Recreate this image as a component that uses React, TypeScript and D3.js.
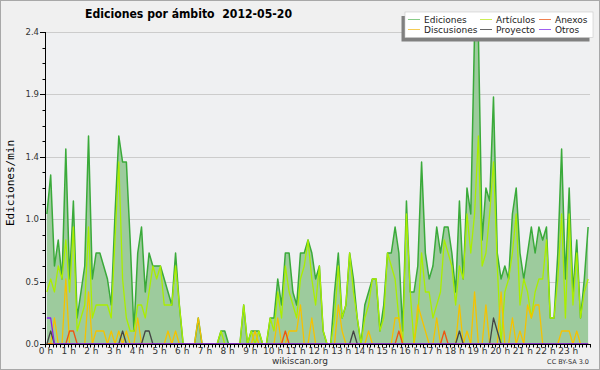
import * as d3 from 'd3';

// one value per 10-minute slot (144 slots), edits per minute
const ediciones = [
  1.0, 1.3, 0.6, 0.8, 0.5, 1.5, 0.5, 1.1, 0.2, 0.4, 0.6, 1.6,
  0.5, 0.7, 0.7, 0.6, 0.5, 0.3, 1.0, 1.6, 1.4, 1.4, 0.8, 0.1,
  0.7, 0.9, 0.4, 0.7, 0.6, 0.6, 0.6, 0.5, 0.4, 0.3, 0.7, 0.3,
  0, 0, 0, 0, 0.2, 0, 0, 0, 0, 0, 0.1, 0.1,
  0, 0, 0, 0, 0.3, 0, 0.1, 0.1, 0.1, 0, 0, 0.2,
  0.2, 0.5, 0.3, 0.7, 0.7, 0.4, 0.3, 0.7, 0.7, 0.8, 0.7, 0.5,
  0.6, 0.1, 0, 0, 0.4, 0.7, 0.2, 0.3, 0.7, 0.5, 0.2, 0,
  0.3, 0.4, 0.5, 0.5, 0.1, 0.3, 0.7, 0.7, 0.9, 0.7, 0.1, 1.1,
  0.4, 0.4, 0.6, 1.4, 0.7, 0.5, 0.6, 0.9, 0.7, 0.9, 0.9, 0.7,
  0.4, 1.1, 0.5, 1.2, 1.0, 2.4, 2.4, 0.8, 1.2, 1.1, 1.9, 0.7,
  0.5, 0.6, 0.5, 1.0, 1.2, 0.7, 0.5, 0.7, 0.9, 0.7, 0.9, 0.8,
  0.9, 0.2, 0.2, 0.7, 1.5, 0.5, 1.2, 0.4, 0.8, 0.2, 0.5, 0.9,
];

const articulos = [
  0.4, 0.5, 0.4, 0.6, 0.5, 0.8, 0.4, 0.9, 0.1, 0.2, 0.3, 0.9,
  0.2, 0.3, 0.3, 0.3, 0.3, 0.2, 0.8, 1.4, 0.5, 0.2, 0.1, 0.1,
  0.3, 0.3, 0.2, 0.4, 0.6, 0.5, 0.6, 0.3, 0.3, 0.3, 0.6, 0.3,
  0, 0, 0, 0, 0, 0, 0, 0, 0, 0, 0.1, 0,
  0, 0, 0, 0, 0.3, 0, 0.1, 0, 0.1, 0, 0, 0.2,
  0.1, 0.4, 0.2, 0.6, 0.4, 0.3, 0.2, 0.5, 0.6, 0.8, 0.5, 0.3,
  0.6, 0.1, 0, 0, 0.2, 0.6, 0.2, 0.3, 0.7, 0.4, 0.2, 0,
  0.2, 0.3, 0.5, 0.5, 0.1, 0.2, 0.7, 0.6, 0.5, 0.2, 0, 1.0,
  0.4, 0, 0.2, 0.7, 0.4, 0.4, 0.2, 0.3, 0.4, 0.8, 0.7, 0.6,
  0.3, 0.6, 0.5, 1.0, 0.7, 1.0, 1.6, 0.6, 0.7, 1.0, 1.4, 0.6,
  0, 0.4, 0.5, 0.7, 1.0, 0.3, 0.5, 0.4, 0.2, 0.4, 0.5, 0.5,
  0.8, 0.2, 0.2, 0.5, 1.0, 0.2, 1.0, 0.3, 0.7, 0.2, 0.4, 0.5,
];

const discusiones = [
  0, 0, 0.2, 0, 0, 0.5, 0, 0, 0, 0, 0, 0.4,
  0, 0.1, 0.1, 0.1, 0, 0.1, 0, 0.1, 0, 0.1, 0, 0,
  0.2, 0, 0, 0, 0, 0, 0, 0, 0.1, 0, 0.1, 0,
  0, 0, 0, 0, 0.2, 0, 0, 0, 0, 0, 0, 0,
  0, 0, 0, 0, 0, 0, 0, 0.1, 0, 0, 0, 0,
  0, 0.2, 0, 0, 0.1, 0.1, 0.1, 0.3, 0, 0, 0.2, 0,
  0, 0, 0, 0, 0, 0.3, 0.1, 0, 0, 0, 0, 0,
  0, 0.1, 0, 0, 0, 0, 0, 0, 0.2, 0.2, 0, 0,
  0, 0, 0.3, 0.2, 0.1, 0, 0, 0.2, 0, 0, 0, 0,
  0, 0.3, 0, 0.1, 0, 0.4, 0, 0, 0.3, 0, 0, 0,
  0.4, 0, 0, 0.2, 0, 0.1, 0, 0.3, 0.2, 0.3, 0.3, 0,
  0, 0, 0, 0, 0.1, 0.1, 0.1, 0, 0.1, 0, 0, 0,
];

const anexos = [
  0, 0, 0, 0, 0, 0, 0.1, 0.1, 0, 0, 0, 0,
  0, 0, 0, 0, 0, 0, 0, 0, 0, 0, 0, 0,
  0, 0, 0, 0, 0, 0, 0, 0, 0, 0, 0, 0,
  0, 0, 0, 0, 0, 0, 0, 0, 0, 0, 0, 0,
  0, 0, 0, 0, 0, 0, 0, 0, 0, 0, 0, 0,
  0, 0, 0, 0.1, 0, 0, 0, 0, 0, 0, 0, 0,
  0, 0, 0, 0, 0, 0, 0, 0, 0, 0, 0, 0,
  0, 0, 0, 0, 0, 0, 0, 0, 0, 0.1, 0, 0,
  0, 0, 0, 0, 0, 0, 0, 0, 0, 0.1, 0, 0,
  0, 0, 0, 0, 0, 0, 0, 0, 0, 0, 0, 0,
  0, 0, 0, 0, 0, 0, 0, 0, 0, 0, 0, 0,
  0, 0, 0, 0, 0, 0, 0, 0, 0, 0, 0, 0,
];

const proyecto = [
  0, 0.1, 0, 0, 0, 0, 0, 0, 0, 0, 0, 0,
  0, 0, 0, 0, 0, 0, 0, 0, 0.1, 0, 0, 0,
  0, 0, 0.1, 0.1, 0, 0, 0, 0, 0, 0, 0, 0,
  0, 0, 0, 0, 0, 0, 0, 0, 0, 0, 0, 0,
  0, 0, 0, 0, 0, 0, 0, 0, 0, 0, 0, 0,
  0, 0, 0, 0, 0, 0, 0, 0, 0, 0, 0, 0,
  0, 0, 0, 0, 0, 0, 0, 0, 0, 0.1, 0, 0,
  0, 0, 0, 0, 0, 0, 0, 0, 0, 0, 0, 0,
  0, 0, 0, 0, 0, 0, 0, 0, 0, 0, 0, 0,
  0, 0.1, 0, 0, 0, 0, 0, 0, 0, 0, 0.2, 0.1,
  0, 0, 0, 0, 0, 0, 0, 0, 0, 0, 0, 0,
  0, 0, 0, 0, 0, 0, 0, 0, 0, 0, 0, 0,
];

const otros = [
  0.2, 0.2, 0, 0, 0, 0, 0, 0, 0, 0, 0, 0,
  0, 0, 0, 0, 0, 0, 0, 0, 0, 0, 0, 0,
  0, 0, 0, 0, 0, 0, 0, 0, 0, 0, 0, 0,
  0, 0, 0, 0, 0, 0, 0, 0, 0, 0, 0, 0,
  0, 0, 0, 0, 0, 0, 0, 0, 0, 0, 0, 0,
  0, 0, 0, 0, 0, 0, 0, 0, 0, 0, 0, 0,
  0, 0, 0, 0, 0, 0, 0, 0, 0, 0, 0, 0,
  0, 0, 0, 0, 0, 0, 0, 0, 0, 0, 0, 0,
  0, 0, 0, 0, 0, 0, 0, 0, 0, 0, 0, 0,
  0, 0, 0, 0, 0, 0, 0, 0, 0, 0, 0, 0,
  0, 0, 0, 0, 0, 0, 0, 0, 0, 0, 0, 0,
  0, 0, 0, 0, 0, 0, 0, 0, 0, 0, 0, 0,
];

const hourLabels = [
  '0 h', '1 h', '2 h', '3 h', '4 h', '5 h', '6 h', '7 h', '8 h', '9 h', '10 h', '11 h',
  '12 h', '13 h', '14 h', '15 h', '16 h', '17 h', '18 h', '19 h', '20 h', '21 h', '22 h', '23 h',
];
const yTickValues = [0, 0.48, 0.96, 1.44, 1.92, 2.4];
const yTickLabels = ['0.0', '0.5', '1.0', '1.4', '1.9', '2.4'];

const series = [
  { label: 'Ediciones', values: ediciones, color: '#3aaa3a', swatch: '#88cc88' },
  { label: 'Artículos', values: articulos, color: '#aaee00', swatch: '#ccee55' },
  { label: 'Discusiones', values: discusiones, color: '#f5c200', swatch: '#f5cc55' },
  { label: 'Anexos', values: anexos, color: '#ee5511', swatch: '#f08050' },
  { label: 'Proyecto', values: proyecto, color: '#444444', swatch: '#666666' },
  { label: 'Otros', values: otros, color: '#8822ee', swatch: '#a060f0' },
];

// legend grid order: row 1 Ediciones, Artículos, Anexos; row 2 Discusiones, Proyecto, Otros
const legendOrder = ['Ediciones', 'Artículos', 'Anexos', 'Discusiones', 'Proyecto', 'Otros'];

const W = 600;
const H = 370;
const plot = { left: 45, right: 590, top: 32, bottom: 344 };
const sans = "'DejaVu Sans', sans-serif";

export default function App() {
  const x = d3.scaleLinear().domain([0, 1440]).range([plot.left, plot.right]);
  const y = d3.scaleLinear().domain([0, 2.4]).range([plot.bottom, plot.top]);
  const slotX = (i: number) => x(i * 10 + 5);

  const line = d3
    .line<number>()
    .x((_, i) => slotX(i))
    .y((v) => y(v));
  const area = d3
    .area<number>()
    .x((_, i) => slotX(i))
    .y0(y(0))
    .y1((v) => y(v));

  const minorY = d3.range(0, 2.4001, 0.12);
  const minorX = d3.range(0, 1441, 10);

  return (
    <>
      <style>{'body{margin:0}'}</style>
      <svg width={W} height={H} style={{ display: 'block' }}>
        <rect x={0.5} y={0.5} width={W - 1} height={H - 1} fill="#f0f0f0" stroke="#a8a8a8" />
        <rect
          x={plot.left}
          y={plot.top}
          width={plot.right - plot.left}
          height={plot.bottom - plot.top}
          fill="#eff0f2"
        />

        {yTickValues.slice(1).map((v) => (
          <line
            key={`g${v}`}
            x1={plot.left}
            x2={plot.right}
            y1={Math.round(y(v)) + 0.5}
            y2={Math.round(y(v)) + 0.5}
            stroke="#cccccc"
          />
        ))}

        <path d={area(ediciones) ?? ''} fill="#9dcb9d" />
        {series.map((s) => (
          <path
            key={s.label}
            d={line(s.values) ?? ''}
            fill="none"
            stroke={s.color}
            strokeWidth={s.label === 'Ediciones' ? 1.5 : 1.3}
            strokeLinejoin="round"
          />
        ))}

        {/* axes */}
        <line x1={plot.left + 0.5} x2={plot.left + 0.5} y1={plot.top} y2={plot.bottom + 1} stroke="#000" />
        <line x1={plot.left} x2={plot.right} y1={plot.bottom + 0.5} y2={plot.bottom + 0.5} stroke="#000" />
        {minorY.map((v) => (
          <line
            key={`my${v}`}
            x1={plot.left - 2.5}
            x2={plot.left}
            y1={Math.round(y(v)) + 0.5}
            y2={Math.round(y(v)) + 0.5}
            stroke="#000"
          />
        ))}
        {yTickValues.map((v, i) => (
          <g key={`y${v}`}>
            <line
              x1={plot.left - 5}
              x2={plot.left}
              y1={Math.round(y(v)) + 0.5}
              y2={Math.round(y(v)) + 0.5}
              stroke="#000"
            />
            <text
              x={39}
              y={y(v)}
              dy="0.35em"
              textAnchor="end"
              fontFamily={sans}
              fontSize={8.5}
              fill="#333"
            >
              {yTickLabels[i]}
            </text>
          </g>
        ))}
        {minorX.map((m) => (
          <line
            key={`mx${m}`}
            x1={Math.round(x(m)) + 0.5}
            x2={Math.round(x(m)) + 0.5}
            y1={plot.bottom}
            y2={plot.bottom + 3.5}
            stroke="#000"
          />
        ))}
        {hourLabels.map((label, h) => (
          <text
            key={label}
            x={x(h * 60) + 1}
            y={354}
            textAnchor="middle"
            fontFamily={sans}
            fontSize={9}
            fill="#333"
          >
            {label}
          </text>
        ))}

        <text
          transform="translate(13.5,183) rotate(-90)"
          textAnchor="middle"
          fontFamily="'DejaVu Sans Mono', monospace"
          fontSize={11}
          fill="#000"
        >
          Ediciones/min
        </text>

        <text
          x={188.5}
          y={18}
          textAnchor="middle"
          fontFamily="'DejaVu Sans Condensed', 'DejaVu Sans', sans-serif"
          fontWeight="bold"
          fontSize={12}
          textLength={207}
          lengthAdjust="spacingAndGlyphs"
          fill="#000"
          style={{ whiteSpace: 'pre' }}
        >
          {'Ediciones por ámbito  2012-05-20'}
        </text>

        {/* legend */}
        <rect x={401.5} y={16} width={188} height={25.5} fill="#808080" />
        <rect x={405} y={12} width={188} height={25.5} fill="#ffffff" stroke="#c8c8c8" strokeWidth={0.6} />
        {legendOrder.map((name, k) => {
          const s = series.find((item) => item.label === name)!;
          const col = k % 3;
          const row = Math.floor(k / 3);
          const lx = [408, 480, 539][col];
          const ly = 19.5 + row * 10;
          return (
            <g key={name}>
              <line x1={lx} x2={lx + 12} y1={ly} y2={ly} stroke={s.swatch} strokeWidth={1} />
              <text x={lx + 16} y={ly + 3.2} fontFamily={sans} fontSize={9} fill="#222">
                {name}
              </text>
            </g>
          );
        })}

        <text x={300} y={364} textAnchor="middle" fontFamily={sans} fontSize={9} fill="#333">
          wikiscan.org
        </text>
        <text x={589} y={364} textAnchor="end" fontFamily={sans} fontSize={6.5} fill="#333">
          CC BY-SA 3.0
        </text>
      </svg>
    </>
  );
}
